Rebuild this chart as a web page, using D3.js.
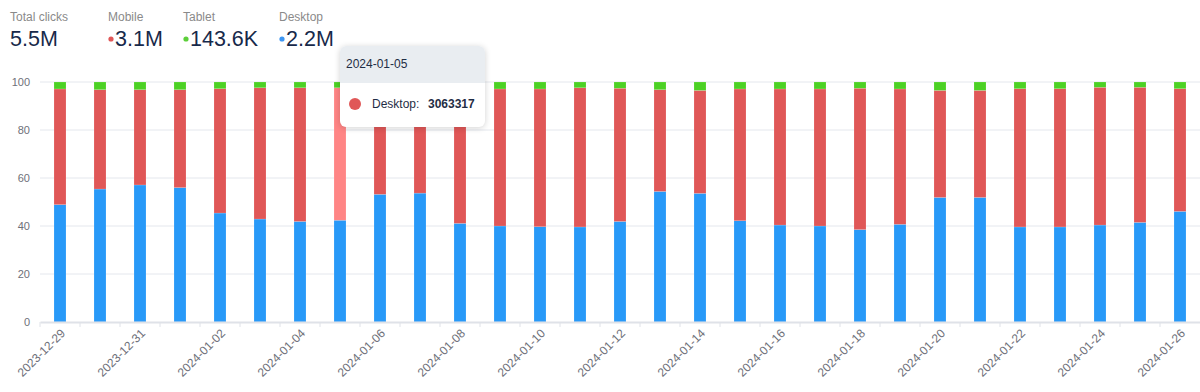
<!DOCTYPE html>
<html>
<head>
<meta charset="utf-8">
<script src="https://cdn.jsdelivr.net/npm/d3@7"></script>
<style>
  body { margin: 0; background: #fff; font-family: "Liberation Sans", Arial, sans-serif; }
  #wrap { position: relative; width: 1200px; height: 392px; overflow: hidden; }
  .tip {
    position: absolute; left: 340px; top: 46px; width: 145px; height: 81px;
    background: #fff; border-radius: 6px; box-shadow: 0 1px 6px rgba(0,0,0,0.18);
    overflow: hidden; font-size: 12px; color: #1f2d45;
  }
  .tip .hd { background: #e9edf1; height: 37px; line-height: 37px; padding-left: 6px; }
  .tip .bd { height: 44px; position: relative; }
  .tip .dot { position: absolute; left: 9px; top: 15px; width: 12px; height: 12px; border-radius: 50%; background: #e05757; }
  .tip .lb { position: absolute; left: 32px; top: 14px; }
  .tip .vl { position: absolute; left: 88px; top: 14px; font-weight: bold; }
</style>
</head>
<body>
<div id="wrap"></div>
<script>
var w = 1200;
var h = 392;

var dates = ["2023-12-29", "2023-12-30", "2023-12-31", "2024-01-01", "2024-01-02", "2024-01-03",
  "2024-01-04", "2024-01-05", "2024-01-06", "2024-01-07", "2024-01-08", "2024-01-09",
  "2024-01-10", "2024-01-11", "2024-01-12", "2024-01-13", "2024-01-14", "2024-01-15",
  "2024-01-16", "2024-01-17", "2024-01-18", "2024-01-19", "2024-01-20", "2024-01-21",
  "2024-01-22", "2024-01-23", "2024-01-24", "2024-01-25", "2024-01-26"];

// share of clicks per day, in %
var desktop = [48.9, 55.4, 57.1, 56.0, 45.4, 42.9, 41.9, 42.4, 53.2, 53.7, 41.1, 40.0, 39.7, 39.6, 41.9,
  54.4, 53.6, 42.2, 40.4, 40.0, 38.5, 40.7, 51.9, 51.9, 39.6, 39.6, 40.4, 41.5, 46.1];
var mobile = [48.2, 41.4, 39.7, 40.8, 51.8, 54.7, 55.7, 55.2, 44.2, 43.6, 56.2, 57.1, 57.4, 58.0, 55.5,
  42.4, 42.9, 54.9, 56.7, 57.1, 58.9, 56.4, 44.6, 44.6, 57.6, 57.6, 57.4, 56.3, 51.1];
var tablet = [2.9, 3.2, 3.2, 3.2, 2.8, 2.4, 2.4, 2.4, 2.6, 2.7, 2.7, 2.9, 2.9, 2.4, 2.6,
  3.2, 3.5, 2.9, 2.9, 2.9, 2.6, 2.9, 3.5, 3.5, 2.8, 2.8, 2.2, 2.2, 2.8];

var yTicks = [0, 20, 40, 60, 80, 100];

var summary = [
  { label: "Total clicks", value: "5.5M", color: null, x: 10 },
  { label: "Mobile", value: "3.1M", color: "#e05757", x: 108 },
  { label: "Tablet", value: "143.6K", color: "#5ccf3a", x: 183 },
  { label: "Desktop", value: "2.2M", color: "#3d96f2", x: 279 }
];

var hovered = "2024-01-05";

var colors = { desktop: "#2899f8", mobile: "#e05757", tablet: "#4cd124" };

var rows = dates.map(function(d, i) {
  return { date: d, desktop: desktop[i], mobile: mobile[i], tablet: tablet[i] };
});
var stack = d3.stack().keys(["desktop", "mobile", "tablet"])(rows);

var xScale = d3.scaleBand()
  .domain(dates)
  .range([40, 1200])
  .padding(0);

var yScale = d3.scaleLinear()
  .domain([0, 100])
  .range([322, 82]);

var svg = d3.select("#wrap")
  .append("svg")
  .attr("width", w)
  .attr("height", h)
  .style("font-family", "'Liberation Sans', Arial, sans-serif");

// summary on top
var sg = svg.selectAll("g.sum")
  .data(summary)
  .enter()
  .append("g")
  .attr("class", "sum");

sg.append("text")
  .attr("x", function(d){ return d.x; })
  .attr("y", 21)
  .style("font-size", "12px")
  .style("fill", "#8a8a8a")
  .text(function(d){ return d.label; });

sg.filter(function(d){ return d.color; })
  .append("circle")
  .attr("cx", function(d){ return d.x + 3; })
  .attr("cy", 39)
  .attr("r", 2.6)
  .attr("fill", function(d){ return d.color; });

sg.append("text")
  .attr("x", function(d){ return d.color ? d.x + 7 : d.x; })
  .attr("y", 46)
  .style("font-size", "21.5px")
  .style("fill", "#17294a")
  .text(function(d){ return d.value; });

// grid
svg.selectAll("line.grid")
  .data(yTicks.slice(1))
  .enter()
  .append("line")
  .attr("class", "grid")
  .attr("x1", 40)
  .attr("x2", 1200)
  .attr("y1", function(d){ return yScale(d); })
  .attr("y2", function(d){ return yScale(d); })
  .attr("stroke", "#e4e7ed")
  .attr("stroke-width", 1);

svg.selectAll("text.ylab")
  .data(yTicks)
  .enter()
  .append("text")
  .attr("class", "ylab")
  .attr("x", 30)
  .attr("y", function(d){ return yScale(d) + 4; })
  .attr("text-anchor", "end")
  .style("font-size", "11px")
  .style("fill", "#6e7079")
  .text(function(d){ return d; });

// bars
var bw = 12;
svg.selectAll("g.layer")
  .data(stack)
  .enter()
  .append("g")
  .attr("class", "layer")
  .selectAll("rect")
  .data(function(s){ return s.map(function(p){ return { key: s.key, p: p }; }); })
  .enter()
  .append("rect")
  .attr("x", function(d){ return xScale(d.p.data.date) + xScale.bandwidth() / 2 - bw / 2; })
  .attr("y", function(d){ return yScale(d.p[1]); })
  .attr("width", bw)
  .attr("height", function(d){ return yScale(d.p[0]) - yScale(d.p[1]); })
  .attr("fill", function(d){
    if (d.key == "mobile" && d.p.data.date == hovered) {
      return "#ff8585";
    }
    return colors[d.key];
  })
  .attr("stroke", "rgba(255,255,255,0.25)")
  .attr("stroke-width", 0.6);

// x axis
var xAxis = d3.axisBottom(xScale)
  .tickSize(0)
  .tickFormat("");
var ax = svg.append("g")
  .attr("transform", "translate(0,322)")
  .call(xAxis);
ax.select(".domain").attr("stroke", "#dfe2e8").attr("stroke-width", 2);

svg.selectAll("line.xtick")
  .data(dates)
  .enter()
  .append("line")
  .attr("class", "xtick")
  .attr("x1", function(d){ return xScale(d); })
  .attr("x2", function(d){ return xScale(d); })
  .attr("y1", 322)
  .attr("y2", 327)
  .attr("stroke", "#dfe2e8");

svg.selectAll("text.xlab")
  .data(dates.filter(function(d, i){ return i % 2 == 0; }))
  .enter()
  .append("text")
  .attr("class", "xlab")
  .attr("transform", function(d){
    return "translate(" + (xScale(d) + xScale.bandwidth() / 2 + 3) + ",331) rotate(-45)";
  })
  .attr("text-anchor", "end")
  .attr("dy", "0.35em")
  .style("font-size", "12px")
  .style("fill", "#6e7079")
  .text(function(d){ return d; });

// tooltip
var tip = d3.select("#wrap").append("div").attr("class", "tip");
tip.append("div").attr("class", "hd").text(hovered);
var bd = tip.append("div").attr("class", "bd");
bd.append("span").attr("class", "dot");
bd.append("span").attr("class", "lb").text("Desktop:");
bd.append("span").attr("class", "vl").text("3063317");
</script>
</body>
</html>
